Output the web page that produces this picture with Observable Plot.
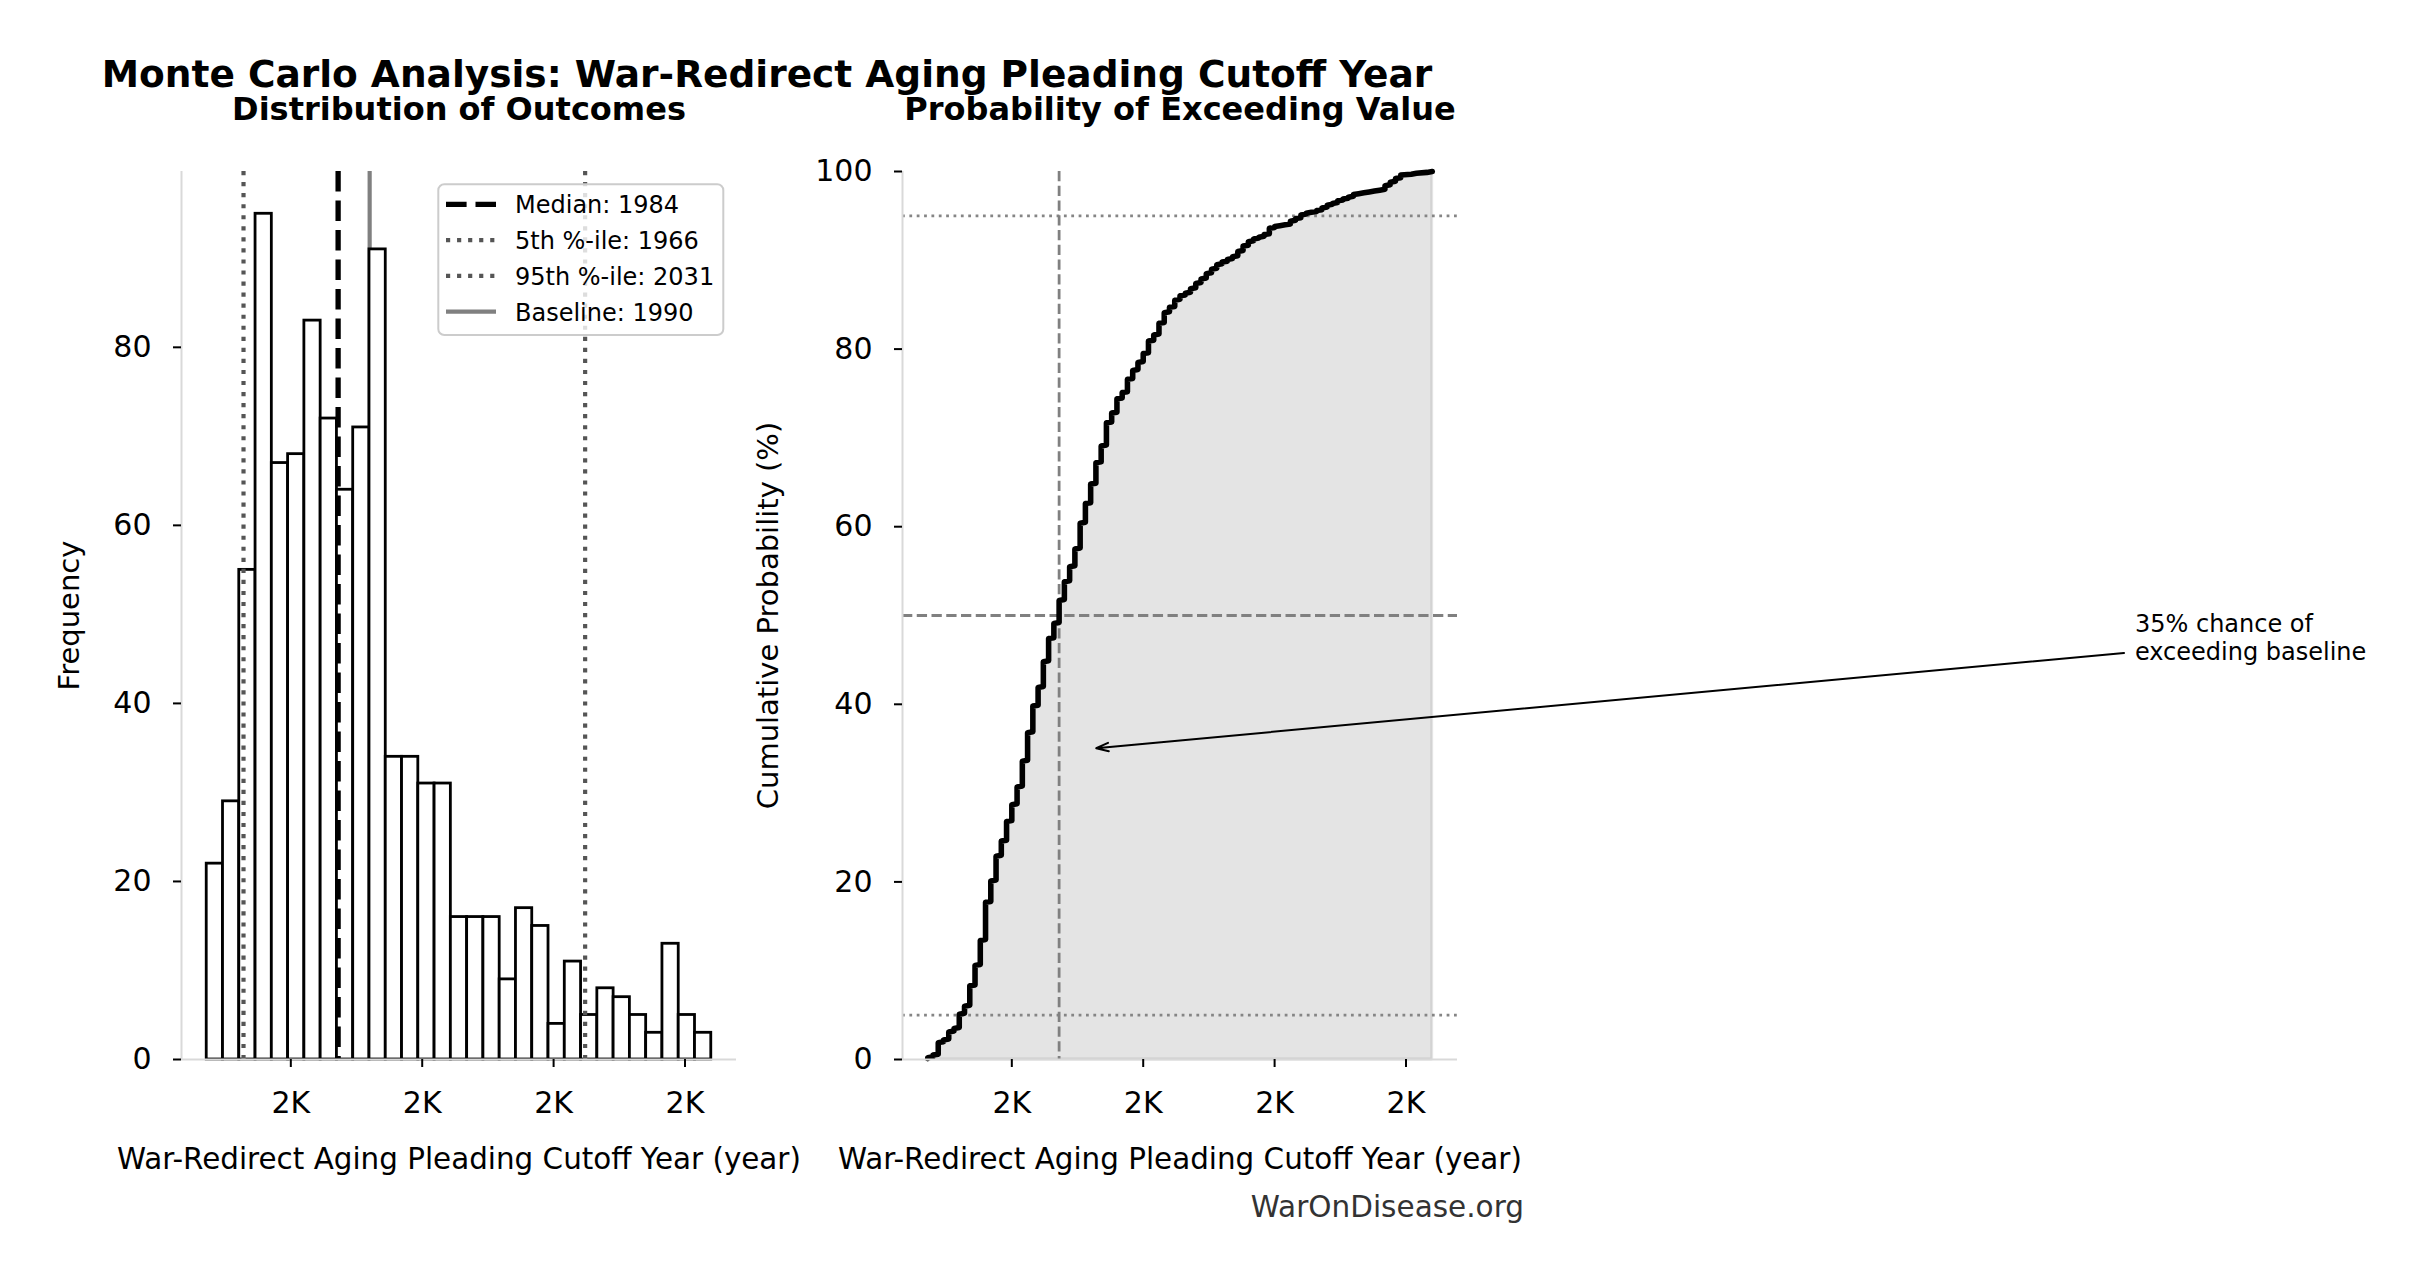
<!DOCTYPE html>
<html>
<head>
<meta charset="utf-8">
<script src="https://cdn.jsdelivr.net/npm/d3@7"></script>
<script src="https://cdn.jsdelivr.net/npm/@observablehq/plot@0.6"></script>
<style>
  html, body { margin: 0; padding: 0; background: #fff; overflow: hidden; }
  #wrap { position: relative; width: 2423px; height: 1280px; overflow: hidden; background: #fff; font-family: "DejaVu Sans", sans-serif; }
  #wrap > svg, #wrap > figure { position: absolute; top: 0; margin: 0; overflow: visible; }
</style>
</head>
<body>
<div id="wrap"></div>
<script>
// ---------------- data ----------------
const titleText = "Monte Carlo Analysis: War-Redirect Aging Pleading Cutoff Year";
const subtitleLeft = "Distribution of Outcomes";
const subtitleRight = "Probability of Exceeding Value";
const xLabel = "War-Redirect Aging Pleading Cutoff Year (year)";
const yLabelLeft = "Frequency";
const yLabelRight = "Cumulative Probability (%)";
const footerText = "WarOnDisease.org";

// histogram bar heights (31 equal-width bins between the min and max sample year)
const histCounts = [22, 29, 55, 95, 67, 68, 83, 72, 64, 71, 91, 34, 34, 31, 31, 16,
                    16, 16, 9, 17, 15, 4, 11, 5, 8, 7, 5, 3, 13, 5, 3];

// number of simulated outcomes per integer year (read off the step heights of the CDF)
const years = d3.range(1959, 2056);
const yearCounts = [2, 3, 14, 3,  9, 4, 16,  9, 23, 23,  28, 43, 24,  28, 17, 22,
                    19, 20, 29,  32, 30, 21,  29, 26, 17,  26, 21, 17,  20, 29, 22,
                    22, 24, 19, 26,  11, 16, 7,  15, 10, 9,  10, 14, 7,  13, 12, 6,
                    8, 5, 3,  5, 6, 5,  6, 5, 5,  3, 3, 3,  6, 6, 5,  3, 2, 3, 7,
                    2, 1, 1,  4, 3, 4,  2, 1, 2,  3, 3, 2,  3, 2, 2,  3, 1, 1,
                    1, 1, 1,  5, 4, 4,  4, 0, 1,  1, 0, 1, 1];

const median = 1984, p5 = 1966, p95 = 2031, baseline = 1990;
const exceedPct = 35;

const xTicks = [1975, 2000, 2025, 2050];
const yTicksHist = [0, 20, 40, 60, 80];
const yTicksCdf = [0, 20, 40, 60, 80, 100];
const refPcts = [5, 95];

const annotation = {x: baseline, y: exceedPct, textX: 2188.7, textY: 45,
                    label: `${exceedPct}% chance of\nexceeding baseline`};

// ---------------- derived ----------------
const yMin = d3.min(years), yMax = d3.max(years);
const span = yMax - yMin;
const xDomain = [yMin - 0.05 * span, yMax + 0.05 * span];
const binW = span / histCounts.length;
const bins = histCounts.map((c, i) => ({x1: yMin + i * binW, x2: yMin + (i + 1) * binW, count: c}));
const samples = years.flatMap((y, i) => Array(yearCounts[i]).fill(y));
const n = samples.length;
const ecdf = samples.map((v, i) => ({x: v, y: (i + 1) / n * 100}));
const fmtK = d => `${(d / 1000).toFixed(0)}K`;

const FONT = "DejaVu Sans";
const spine = "#d9d9d9";
const svgStyle = {fontFamily: FONT, fontSize: "30px", background: "transparent", color: "black", overflow: "visible"};

// ---------------- left: histogram ----------------
const left = Plot.plot({
  width: 760, height: 1280,
  marginLeft: 181, marginRight: 24, marginTop: 171, marginBottom: 221,
  style: svgStyle,
  x: {domain: xDomain},
  y: {domain: [0, d3.max(histCounts) * 1.05]},
  marks: [
    Plot.ruleX([baseline], {stroke: "#808080", strokeWidth: 4.17}),
    Plot.rectY(bins, {x1: "x1", x2: "x2", y: "count", fill: "white", stroke: "black", strokeWidth: 2.8, inset: 0}),
    Plot.ruleX([p5, p95], {stroke: "#555", strokeWidth: 4.17, strokeDasharray: "4.17,6.88"}),
    Plot.ruleX([median], {stroke: "black", strokeWidth: 5.3, strokeDasharray: "20.6,8.9"}),
    Plot.ruleX([xDomain[0]], {stroke: spine, strokeWidth: 2}),
    Plot.ruleY([0], {stroke: spine, strokeWidth: 2}),
    Plot.axisX({ticks: xTicks, tickFormat: fmtK, tickSize: 8, tickPadding: 24.5, strokeWidth: 2, fontSize: 30, label: null}),
    Plot.axisY({ticks: yTicksHist, tickSize: 8, tickPadding: 22, strokeWidth: 2, fontSize: 30, label: null}),
    Plot.text([subtitleLeft], {text: d => d, frameAnchor: "top", dy: -52, lineAnchor: "bottom", fontWeight: "bold", fontSize: 32}),
    Plot.text([xLabel], {text: d => d, frameAnchor: "bottom", dy: 109, lineAnchor: "bottom", fontSize: 29.4}),
    Plot.text([yLabelLeft], {text: d => d, frameAnchor: "left", dx: -103, rotate: -90, textAnchor: "middle", lineAnchor: "bottom", fontSize: 29})
  ]
});
left.style.left = "0px";

// ---------------- right: cumulative distribution ----------------
const right = Plot.plot({
  width: 1663, height: 1280,
  marginLeft: 142, marginRight: 966, marginTop: 171, marginBottom: 221,
  style: svgStyle,
  x: {domain: xDomain},
  y: {domain: [0, 100]},
  marks: [
    Plot.area(ecdf, {x1: "x", y1: 0, y2: "y", fill: "#808080", fillOpacity: 0.21, stroke: "#808080", strokeOpacity: 0.21, strokeWidth: 2.78}),
    Plot.ruleY(refPcts, {stroke: "#858585", strokeWidth: 2.6, strokeDasharray: "2.78,4.58"}),
    Plot.ruleY([50], {stroke: "#808080", strokeWidth: 2.78, strokeDasharray: "10.3,4.45"}),
    Plot.ruleX([median], {stroke: "#808080", strokeWidth: 2.78, strokeDasharray: "10.3,4.45"}),
    Plot.line(ecdf, {x: "x", y: "y", stroke: "black", strokeWidth: 5.56, strokeLinejoin: "round"}),
    Plot.ruleX([xDomain[0]], {stroke: spine, strokeWidth: 2}),
    Plot.ruleY([0], {stroke: spine, strokeWidth: 2}),
    Plot.axisX({ticks: xTicks, tickFormat: fmtK, tickSize: 8, tickPadding: 24.5, strokeWidth: 2, fontSize: 30, label: null}),
    Plot.axisY({ticks: yTicksCdf, tickSize: 8, tickPadding: 22, strokeWidth: 2, fontSize: 30, label: null}),
    Plot.arrow([annotation], {x1: "textX", y1: d => d.textY + 0.9, x2: "x", y2: "y",
      stroke: "black", strokeWidth: 2, headLength: 9.7, headAngle: 38, insetStart: 11, insetEnd: 5.6}),
    Plot.text([annotation], {x: "textX", y: "textY", text: "label", textAnchor: "start",
      lineAnchor: "bottom", lineHeight: 1.143, fontSize: 24}),
    Plot.text([subtitleRight], {text: d => d, frameAnchor: "top", dy: -52, lineAnchor: "bottom", fontWeight: "bold", fontSize: 32}),
    Plot.text([xLabel], {text: d => d, frameAnchor: "bottom", dy: 109, lineAnchor: "bottom", fontSize: 29.4}),
    Plot.text([yLabelRight], {text: d => d, frameAnchor: "left", dx: -125, rotate: -90, textAnchor: "middle", lineAnchor: "bottom", fontSize: 29})
  ]
});
right.style.left = "760px";

const wrap = document.getElementById("wrap");
wrap.appendChild(left);
wrap.appendChild(right);

// ---------------- overlay: title, legend, footer ----------------
const ov = d3.select(wrap).append("svg")
  .attr("width", 2423).attr("height", 1280)
  .style("left", "0px").style("pointer-events", "none")
  .attr("font-family", FONT);

ov.append("text").attr("x", 101.7).attr("y", 87.3)
  .attr("font-size", 37.5).attr("font-weight", "bold").attr("fill", "black").text(titleText);

ov.append("text").attr("x", 1524).attr("y", 1216.7).attr("text-anchor", "end")
  .attr("font-size", 29.5).attr("fill", "#333").text(footerText);

const legendItems = [
  {label: `Median: ${median}`, stroke: "black", width: 5.3, dash: "20.6,8.9"},
  {label: `5th %-ile: ${p5}`, stroke: "#555", width: 4.17, dash: "4.17,6.88"},
  {label: `95th %-ile: ${p95}`, stroke: "#555", width: 4.17, dash: "4.17,6.88"},
  {label: `Baseline: ${baseline}`, stroke: "#808080", width: 4.17, dash: null}
];
const lg = ov.append("g");
lg.append("rect").attr("x", 438.3).attr("y", 184.3).attr("width", 285).attr("height", 150.7)
  .attr("rx", 6).attr("fill", "white").attr("fill-opacity", 0.8)
  .attr("stroke", "#cccccc").attr("stroke-width", 2);
legendItems.forEach((it, i) => {
  const yy = 204.3 + i * 35.8;
  const ln = lg.append("line").attr("x1", 446).attr("x2", 496).attr("y1", yy).attr("y2", yy)
    .attr("stroke", it.stroke).attr("stroke-width", it.width);
  if (it.dash) ln.attr("stroke-dasharray", it.dash);
  lg.append("text").attr("x", 515).attr("y", yy + 9).attr("font-size", 24).attr("fill", "black").text(it.label);
});
</script>
</body>
</html>
